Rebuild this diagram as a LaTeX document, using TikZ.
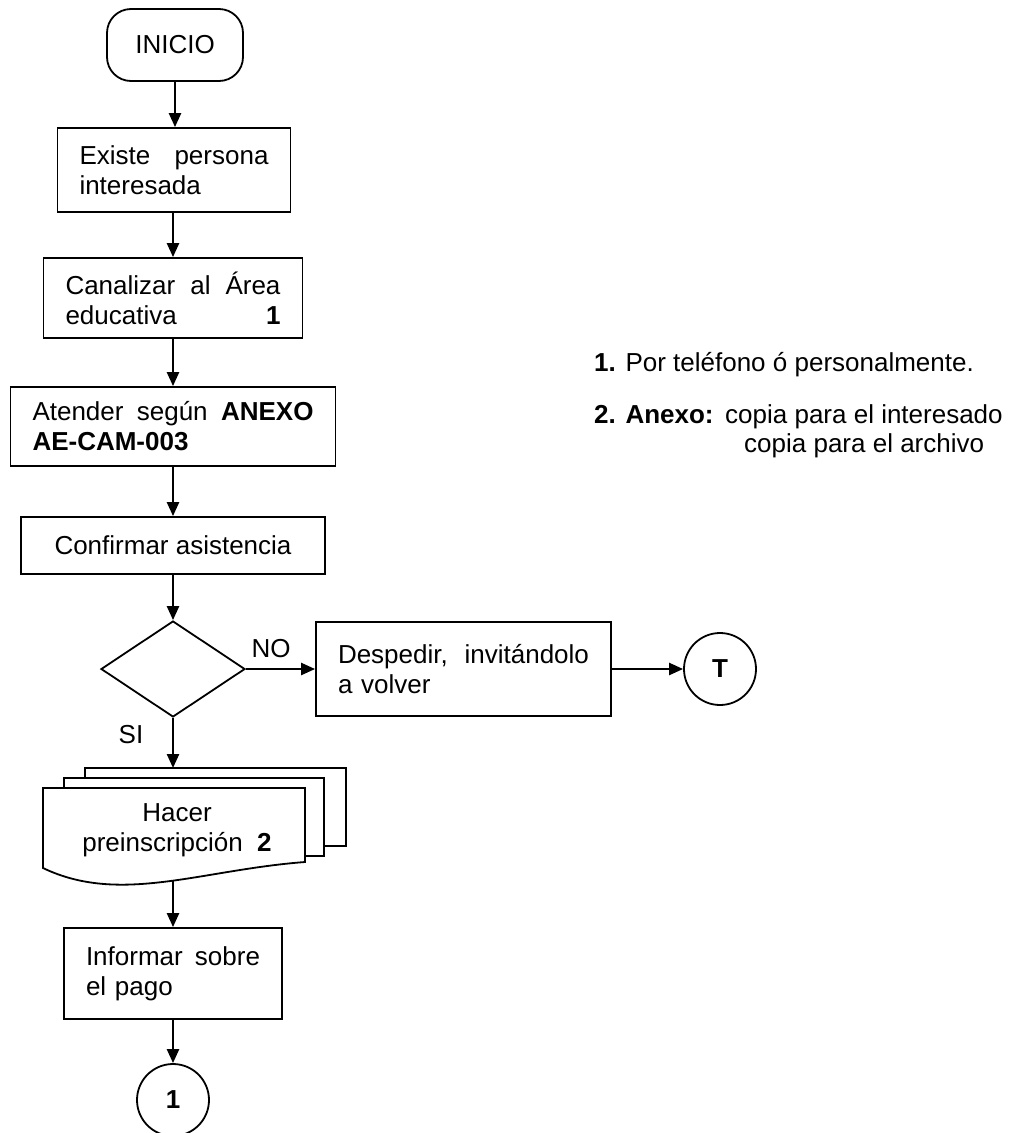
\documentclass[tikz,border=0pt]{standalone}
\usepackage{fontspec}
\setmainfont{Liberation Sans}
\usetikzlibrary{arrows.meta,shapes.geometric}
\newcommand{\fsz}{\fontsize{26}{30}\selectfont}
\tikzset{
  box/.style={draw, line width=1.8pt, inner xsep=22pt, inner ysep=0pt, font=\fsz, align=left},
  cbox/.style={draw, line width=1.8pt, inner sep=0pt, font=\fsz, align=center},
  arr/.style={line width=2.4pt, -{Triangle[length=14pt,width=12pt]}},
  shp/.style={line width=1.8pt, fill=white},
  conn/.style={draw, circle, line width=1.8pt, minimum size=72pt, inner sep=0pt, font=\fsz\bfseries},
  lbl/.style={font=\fsz, inner sep=0pt}
}
\begin{document}
\begin{tikzpicture}[x=1pt,y=-1pt]
\useasboundingbox (0,0) rectangle (1019,1133);

% INICIO terminator
\draw[shp, rounded corners=24pt] (107,9) rectangle (243,81);
\node[lbl, minimum width=136pt, minimum height=72pt] (inicio) at (175,45) {INICIO};

\node[box, text width=189pt, minimum height=84pt] (b1) at (174,170)
  {Existe\hfill persona\\interesada};
\node[box, text width=215pt, minimum height=80pt] (b2) at (173,298)
  {Canalizar\hfill al\hfill Área\\educativa\hfill\textbf{1}};
\node[box, text width=281pt, minimum height=79pt] (b3) at (173,426.5)
  {Atender\hfill según\hfill\textbf{ANEXO}\\\textbf{AE-CAM-003}};
\node[cbox, minimum width=304pt, minimum height=57pt] (b4) at (173,545.5)
  {Confirmar asistencia};

\node[draw, diamond, line width=1.8pt, minimum width=144pt, minimum height=96pt, inner sep=0pt] (dia) at (173,669) {};

\node[box, text width=251pt, minimum height=94pt] (desp) at (463.5,669)
  {Despedir,\hfill invitándolo\\a volver};
\node[conn] (t) at (720,669) {T};

\node[lbl] (no) at (271,649) {NO};
\node[lbl] (si) at (131,735) {SI};

% multi-document
\coordinate (doctop) at (173,768);
\coordinate (docbot) at (173,880);
\draw[shp] (85,768) rectangle (346,846);
\draw[shp] (64,778) rectangle (324,856);
\draw[shp] (43,788) -- (305,788) -- (305,862) .. controls (200,870) and (120,905) .. (43,868) -- cycle;
\node[lbl, align=center] (doc) at (177,830) {Hacer\\preinscripción\ \ \textbf{2}};

\node[box, text width=174pt, minimum height=91pt] (inf) at (173,973.5)
  {Informar\hfill sobre\\el pago};
\node[conn] (c1) at (173,1100) {1};

% connectors
\draw[arr] (inicio.south) -- (b1.north -| inicio.south);
\draw[arr] (b1.south -| b2.north) -- (b2.north);
\draw[arr] (b2.south) -- (b3.north);
\draw[arr] (b3.south) -- (b4.north);
\draw[arr] (b4.south) -- (dia.north);
\draw[arr] (dia.east) -- (desp.west);
\draw[arr] (desp.east) -- (t.west);
\draw[arr] (dia.south) -- (doctop);
\draw[arr] (docbot) -- (inf.north);
\draw[arr] (inf.south) -- (c1.north);

% notes
\node[lbl, anchor=base west] (n1) at (594,371) {\textbf{1.} Por teléfono ó personalmente.};
\node[lbl, anchor=base west] (n2) at (594,423) {\textbf{2. Anexo:}};
\node[lbl, anchor=base west] (n2b) at (725,423) {copia para el interesado};
\node[lbl, anchor=base west] (n3) at (744,452) {copia para el archivo};
\end{tikzpicture}
\end{document}
